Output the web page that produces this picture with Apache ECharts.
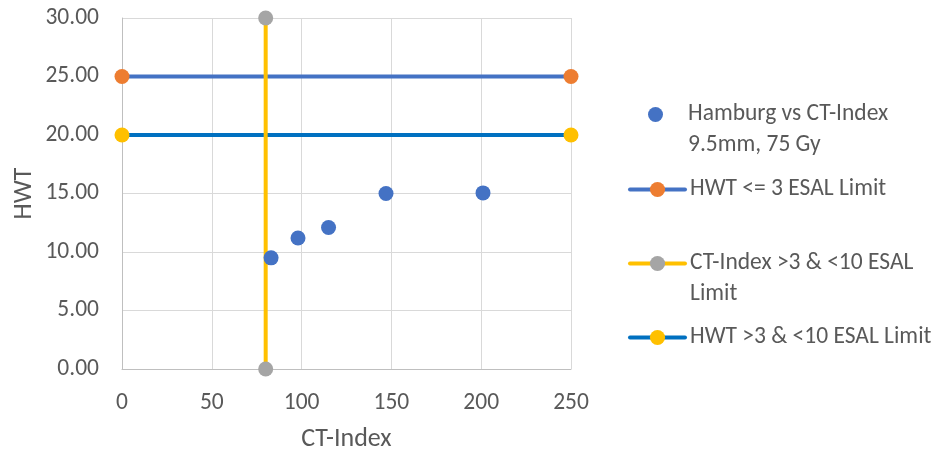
<!DOCTYPE html>
<html><head><meta charset="utf-8">
<script src="https://cdn.jsdelivr.net/npm/echarts@6/dist/echarts.min.js"></script>
<style>html,body{margin:0;padding:0;background:#fff}#c{width:937px;height:453px}</style>
</head><body><div id="c"></div>
<script>
const scatterName = 'Hamburg vs CT-Index 9.5mm, 75 Gy';
const ctIndex = [83, 98, 115, 147, 201];
const hwt = [9.5, 11.2, 12.1, 15.0, 15.05];
const limit1Name = 'HWT <= 3 ESAL Limit';
const limit1X = [0, 250];
const limit1Y = [25, 25];
const limit2Name = 'CT-Index >3 & <10 ESAL Limit';
const limit2X = [80, 80];
const limit2Y = [0, 30];
const limit3Name = 'HWT >3 & <10 ESAL Limit';
const limit3X = [0, 250];
const limit3Y = [20, 20];
const xTicks = [0, 50, 100, 150, 200, 250];
const yTicks = [0, 5, 10, 15, 20, 25, 30];

const FONT = "Carlito, 'Liberation Sans', sans-serif";
const TXT = '#595959';
const LH = 31;
const zip = (a, b) => a.map((v, i) => [v, b[i]]);
const legendLabels = {};
// leading blank line keeps the first text line level with the legend icon
legendLabels[scatterName] = '\u200b\nHamburg vs CT-Index\n9.5mm, 75 Gy';
legendLabels[limit2Name] = '\u200b\nCT-Index >3 & <10 ESAL\nLimit';

function leg(name, centerY, lines, extra) {
  const h = lines > 1 ? (2 * lines - 1) * LH : LH;
  return Object.assign({
    data: [name], left: 628, top: Math.round(centerY - h / 2), padding: 0,
    itemWidth: 55, itemHeight: 19,
    formatter: n => legendLabels[n] || n,
    lineStyle: { width: 4, cap: 'round' },
    textStyle: { fontFamily: FONT, fontSize: 23.5, color: TXT, lineHeight: LH },
    selectedMode: false
  }, extra || {});
}

const chart = echarts.init(document.getElementById('c'));
chart.setOption({
  animation: false,
  grid: { left: 122, right: 366, top: 18, bottom: 84, outerBoundsMode: 'none', containLabel: false },
  xAxis: {
    type: 'value', min: xTicks[0], max: xTicks[xTicks.length - 1], interval: 50,
    name: 'CT-Index', nameLocation: 'middle', nameGap: 57,
    nameTextStyle: { fontFamily: FONT, fontSize: 26, color: TXT },
    axisLine: { show: true, lineStyle: { color: '#BFBFBF', width: 1 } },
    axisTick: { show: false },
    axisLabel: { fontFamily: FONT, fontSize: 23.5, color: TXT, margin: 22 },
    splitLine: { show: true, lineStyle: { color: '#D9D9D9', width: 1 } }
  },
  yAxis: {
    type: 'value', min: yTicks[0], max: yTicks[yTicks.length - 1], interval: 5,
    name: 'HWT', nameLocation: 'middle', nameGap: 85, nameRotate: 90,
    nameTextStyle: { fontFamily: FONT, fontSize: 26, color: TXT },
    axisLine: { show: true, lineStyle: { color: '#BFBFBF', width: 1 } },
    axisTick: { show: false },
    axisLabel: { fontFamily: FONT, fontSize: 23.5, color: TXT, margin: 23, formatter: v => v.toFixed(2) },
    splitLine: { show: true, lineStyle: { color: '#D9D9D9', width: 1 } }
  },
  legend: [
    leg(scatterName, 114.5, 2, { itemHeight: 15,
      icon: 'path://M0,0M55,15M20,7.5A7.5,7.5,0,1,1,35,7.5A7.5,7.5,0,1,1,20,7.5Z' }),
    leg(limit1Name, 189, 1),
    leg(limit2Name, 263.5, 2),
    leg(limit3Name, 337, 1)
  ],
  series: [
    { name: scatterName, type: 'scatter', data: zip(ctIndex, hwt), symbol: 'circle', symbolSize: 15,
      itemStyle: { color: '#4472C4', opacity: 1 }, z: 10 },
    { name: limit1Name, type: 'line', data: zip(limit1X, limit1Y), symbol: 'circle', symbolSize: 15,
      showAllSymbol: true, clip: false,
      lineStyle: { color: '#4472C4', width: 4 }, itemStyle: { color: '#ED7D31' }, z: 3 },
    { name: limit2Name, type: 'line', data: zip(limit2X, limit2Y), symbol: 'circle', symbolSize: 15,
      showAllSymbol: true, clip: false,
      lineStyle: { color: '#FFC000', width: 4 }, itemStyle: { color: '#A5A5A5' }, z: 4 },
    { name: limit3Name, type: 'line', data: zip(limit3X, limit3Y), symbol: 'circle', symbolSize: 15,
      showAllSymbol: true, clip: false,
      lineStyle: { color: '#0070C0', width: 4 }, itemStyle: { color: '#FFC000' }, z: 3 }
  ]
});
</script></body></html>
